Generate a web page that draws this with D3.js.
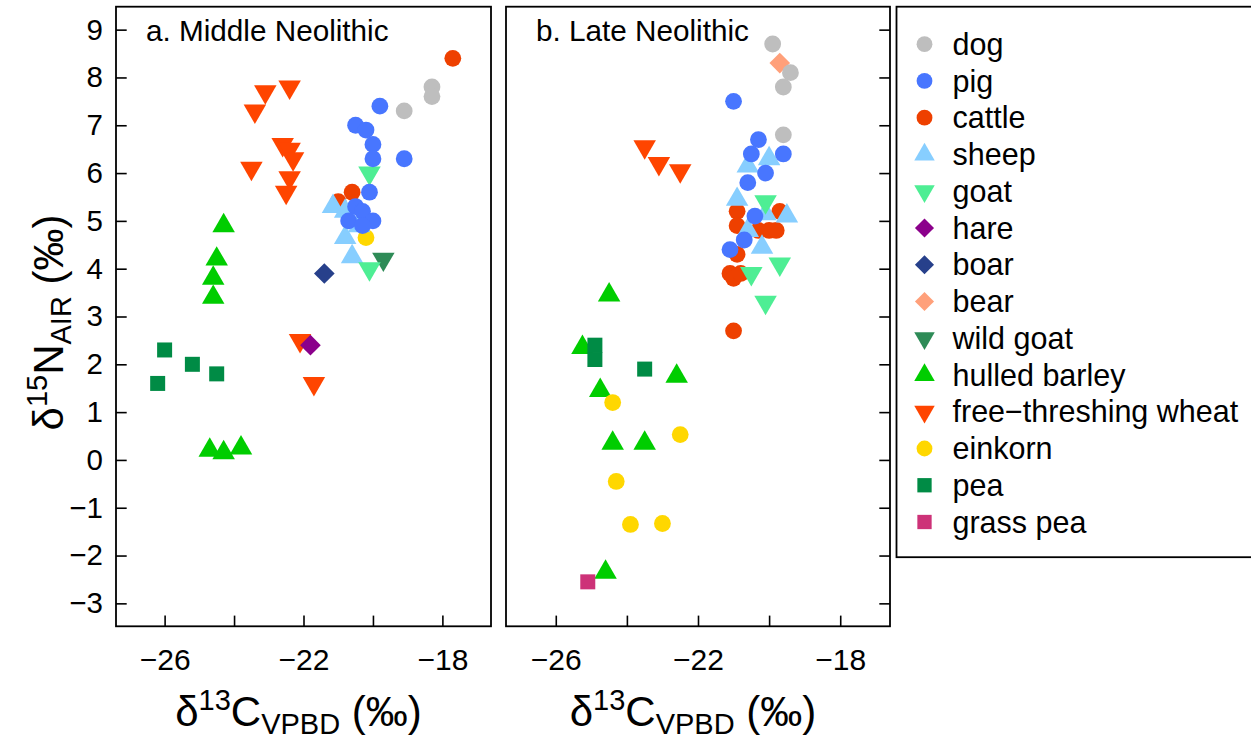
<!DOCTYPE html>
<html>
<head>
<meta charset="utf-8">
<script src="https://cdn.jsdelivr.net/npm/d3@7"></script>
<style>
  body { margin: 0; background: #fff; }
  svg text { font-family: "Liberation Sans", Arial, Helvetica, sans-serif; fill: #000; }
</style>
</head>
<body>
<div id="chart"></div>
<script>
// species, colours and plotting symbols (legend order)
var species = ["dog", "pig", "cattle", "sheep", "goat", "hare", "boar", "bear", "wild goat",
               "hulled barley", "free\u2212threshing wheat", "einkorn", "pea", "grass pea"];
var colours = ["#BEBEBE", "#4876FF", "#EE4000", "#87CEFF", "#4EEE94", "#8B008B", "#27408B", "#FFA07A",
               "#2E8B57", "#00CD00", "#FF4500", "#FFD700", "#008B45", "#CD3278"];
var shapes  = ["circle", "circle", "circle", "up", "down", "diamond", "diamond", "diamond", "down",
               "up", "down", "circle", "square", "square"];

// drawing order inside each panel (plants first, animals on top)
var drawOrder = ["hulled barley", "free\u2212threshing wheat", "einkorn", "pea", "grass pea",
                 "bear", "hare", "boar", "wild goat", "cattle", "sheep", "goat", "pig", "dog"];

var xTicks = [-26, -24, -22, -20, -18];
var xTickLabels = [-26, -22, -18];
var yTicks = [-3, -2, -1, 0, 1, 2, 3, 4, 5, 6, 7, 8, 9];

// a. Middle Neolithic  [d13C, d15N]
var mnDog = [[-18.3, 7.8], [-18.3, 7.6], [-19.1, 7.3]];
var mnPig = [[-19.8, 7.4], [-20.5, 7.0], [-20.2, 6.9], [-20.0, 6.6], [-20.0, 6.3], [-19.1, 6.3],
             [-20.1, 5.6], [-20.5, 5.3], [-20.3, 5.2], [-20.7, 5.0], [-20.0, 5.0], [-20.3, 4.9]];
var mnCattle = [[-17.7, 8.4], [-20.6, 5.6], [-21.0, 5.4]];
var mnSheep = [[-21.15, 5.3], [-20.8, 5.2], [-20.4, 4.9], [-20.8, 4.65], [-20.6, 4.25]];
var mnGoat = [[-20.1, 6.0], [-20.1, 4.0]];
var mnHare = [[-21.8, 2.4]];
var mnBoar = [[-21.4, 3.9]];
var mnWildGoat = [[-19.7, 4.2]];
var mnBarley = [[-24.3, 4.9], [-24.5, 4.2], [-24.6, 3.8], [-24.6, 3.4], [-24.7, 0.2], [-24.3, 0.15], [-23.8, 0.25]];
var mnWheat = [[-22.4, 7.8], [-23.1, 7.7], [-23.4, 7.3], [-22.6, 6.6], [-22.4, 6.5], [-22.3, 6.3],
               [-23.5, 6.1], [-22.4, 5.9], [-22.5, 5.6], [-22.1, 2.5], [-21.7, 1.6]];
var mnEinkorn = [[-20.2, 4.65]];
var mnPea = [[-26.0, 2.3], [-26.2, 1.6], [-25.2, 2.0], [-24.5, 1.8]];

// b. Late Neolithic
var lnDog = [[-19.9, 8.7], [-19.4, 8.1], [-19.6, 7.8], [-19.6, 6.8]];
var lnBear = [[-19.7, 8.3]];
var lnPig = [[-21.0, 7.5], [-20.3, 6.7], [-20.5, 6.4], [-19.6, 6.4], [-20.1, 6.0], [-20.6, 5.8],
             [-20.4, 5.1], [-20.7, 4.6], [-21.1, 4.4]];
var lnSheep = [[-20.0, 6.3], [-20.6, 6.15], [-20.9, 5.45], [-20.1, 5.15], [-19.5, 5.1], [-20.6, 4.8], [-20.2, 4.45]];
var lnGoat = [[-20.1, 5.4], [-20.5, 3.9], [-19.7, 4.1], [-20.1, 3.3]];
var lnCattle = [[-19.7, 5.2], [-20.9, 5.2], [-20.9, 4.9], [-20.3, 4.8], [-20.0, 4.8], [-19.8, 4.8],
                [-20.9, 4.3], [-21.1, 3.9], [-21.0, 3.8], [-20.8, 3.9], [-21.0, 2.7]];
var lnWheat = [[-23.5, 6.55], [-23.1, 6.2], [-22.5, 6.05]];
var lnBarley = [[-24.5, 3.45], [-25.25, 2.35], [-22.6, 1.75], [-24.75, 1.45], [-24.4, 0.35], [-23.5, 0.35], [-24.6, -2.35]];
var lnPea = [[-24.9, 2.4], [-24.9, 2.1], [-23.5, 1.9]];
var lnEinkorn = [[-24.4, 1.2], [-22.5, 0.53], [-24.3, -0.45], [-23.9, -1.35], [-23.0, -1.33]];
var lnGrassPea = [[-25.1, -2.55]];

var middle = {"dog": mnDog, "pig": mnPig, "cattle": mnCattle, "sheep": mnSheep, "goat": mnGoat,
  "hare": mnHare, "boar": mnBoar, "wild goat": mnWildGoat, "hulled barley": mnBarley,
  "free\u2212threshing wheat": mnWheat, "einkorn": mnEinkorn, "pea": mnPea};
var late = {"dog": lnDog, "bear": lnBear, "pig": lnPig, "sheep": lnSheep, "goat": lnGoat,
  "cattle": lnCattle, "free\u2212threshing wheat": lnWheat, "hulled barley": lnBarley,
  "pea": lnPea, "einkorn": lnEinkorn, "grass pea": lnGrassPea};

var width = 1251, height = 740;
var svg = d3.select("#chart").append("svg")
    .attr("width", width)
    .attr("height", height);

// R style 4% extension of the limits
function padded(a, b) { var e = (b - a) * 0.04; return [a - e, b + e]; }

var y = d3.scaleLinear().domain(padded(-3, 9)).range([626.3, 6.7]);

function symbolPath(shape, s) {
  if (shape === "circle") return d3.symbol(d3.symbolCircle, Math.PI * s.r * s.r)();
  if (shape === "up" || shape === "down") return d3.symbol(d3.symbolTriangle, s.tri * s.tri * Math.sqrt(3) / 4)();
  if (shape === "square") return d3.symbol(d3.symbolSquare, s.sq * s.sq)();
  return d3.symbol(d3.symbolSquare, s.dia * s.dia)();
}
function symbolRotate(shape) {
  if (shape === "down") return " rotate(180)";
  if (shape === "diamond") return " rotate(45)";
  return "";
}

var plotSize = {r: 8.4, tri: 22.5, sq: 15, dia: 14.6};
var legendSize = {r: 7.9, tri: 20.5, sq: 14.3, dia: 13.5};

function drawPanel(left, right, data, title, yLeft) {
  var x = d3.scaleLinear().domain(padded(-27, -17)).range([left, right]);
  var g = svg.append("g");

  // points
  drawOrder.forEach(function(sp) {
    var pts = data[sp];
    if (!pts) return;
    var i = species.indexOf(sp);
    g.selectAll(null)
      .data(pts)
      .enter().append("path")
      .attr("d", symbolPath(shapes[i], plotSize))
      .attr("transform", function(d) {
        return "translate(" + x(d[0]) + "," + y(d[1]) + ")" + symbolRotate(shapes[i]);
      })
      .style("fill", colours[i]);
  });

  // x axis, inward ticks
  var xa = g.append("g")
    .attr("transform", "translate(0," + y.range()[0] + ")")
    .call(d3.axisBottom(x).tickValues(xTicks).tickSizeInner(-10.7).tickSizeOuter(0).tickPadding(22.5)
      .tickFormat(function(d) { return xTickLabels.indexOf(d) >= 0 ? d3.format("d")(d) : ""; }));
  xa.select(".domain").remove();
  xa.selectAll("line").attr("stroke", "#000").attr("stroke-width", 1.6);
  xa.selectAll("text").style("font-size", "30px");

  // y axis
  var ya = g.append("g")
    .attr("transform", "translate(" + (yLeft ? left : right) + ",0)")
    .call((yLeft ? d3.axisLeft(y) : d3.axisRight(y)).tickValues(yTicks)
      .tickSizeInner(-10.7).tickSizeOuter(0).tickPadding(13)
      .tickFormat(yLeft ? d3.format("d") : function() { return ""; }));
  ya.select(".domain").remove();
  ya.selectAll("line").attr("stroke", "#000").attr("stroke-width", 1.6);
  ya.selectAll("text").style("font-size", "29.5px");

  // box
  g.append("rect")
    .attr("x", left).attr("y", y.range()[1])
    .attr("width", right - left).attr("height", y.range()[0] - y.range()[1])
    .attr("fill", "none").attr("stroke", "#000").attr("stroke-width", 1.8);

  // panel title
  g.append("text")
    .attr("x", left + 30).attr("y", 41)
    .style("font-size", "29.7px")
    .text(title);

  // x axis title
  var xt = g.append("text")
    .attr("x", (left + right) / 2 - 5).attr("y", 726)
    .attr("text-anchor", "middle")
    .style("font-size", "42px");
  xt.append("tspan").text("\u03b4");
  xt.append("tspan").attr("dy", -16).style("font-size", "29px").text("13");
  xt.append("tspan").attr("dy", 16).text("C");
  xt.append("tspan").attr("dy", 8).style("font-size", "29px").text("VPBD");
  xt.append("tspan").attr("dy", -8).text(" (\u2030)");
}

drawPanel(116, 491, middle, "a. Middle Neolithic", true);
drawPanel(506, 890, late, "b. Late Neolithic", false);

// y axis title
var yt = svg.append("text")
  .attr("transform", "translate(63," + ((y.range()[0] + y.range()[1]) / 2 + 6) + ") rotate(-90)")
  .attr("text-anchor", "middle")
  .style("font-size", "42px");
yt.append("tspan").text("\u03b4");
yt.append("tspan").attr("dy", -16).style("font-size", "29px").text("15");
yt.append("tspan").attr("dy", 16).text("N");
yt.append("tspan").attr("dy", 8).style("font-size", "29px").text("AIR");
yt.append("tspan").attr("dy", -8).text(" (\u2030)");

// legend
var legend = svg.append("g");
legend.append("rect")
  .attr("x", 896.5).attr("y", 6.7).attr("width", 360).attr("height", 550.5)
  .attr("fill", "none").attr("stroke", "#000").attr("stroke-width", 1.8);

var rowY = d3.scalePoint().domain(species).range([44.2, 522]);
species.forEach(function(sp, i) {
  legend.append("path")
    .attr("d", symbolPath(shapes[i], legendSize))
    .attr("transform", "translate(924.5," + rowY(sp) + ")" + symbolRotate(shapes[i]))
    .style("fill", colours[i]);
  legend.append("text")
    .attr("x", 952.5).attr("y", rowY(sp))
    .attr("dy", "0.35em")
    .style("font-size", "30.5px")
    .text(sp);
});
</script>
</body>
</html>
